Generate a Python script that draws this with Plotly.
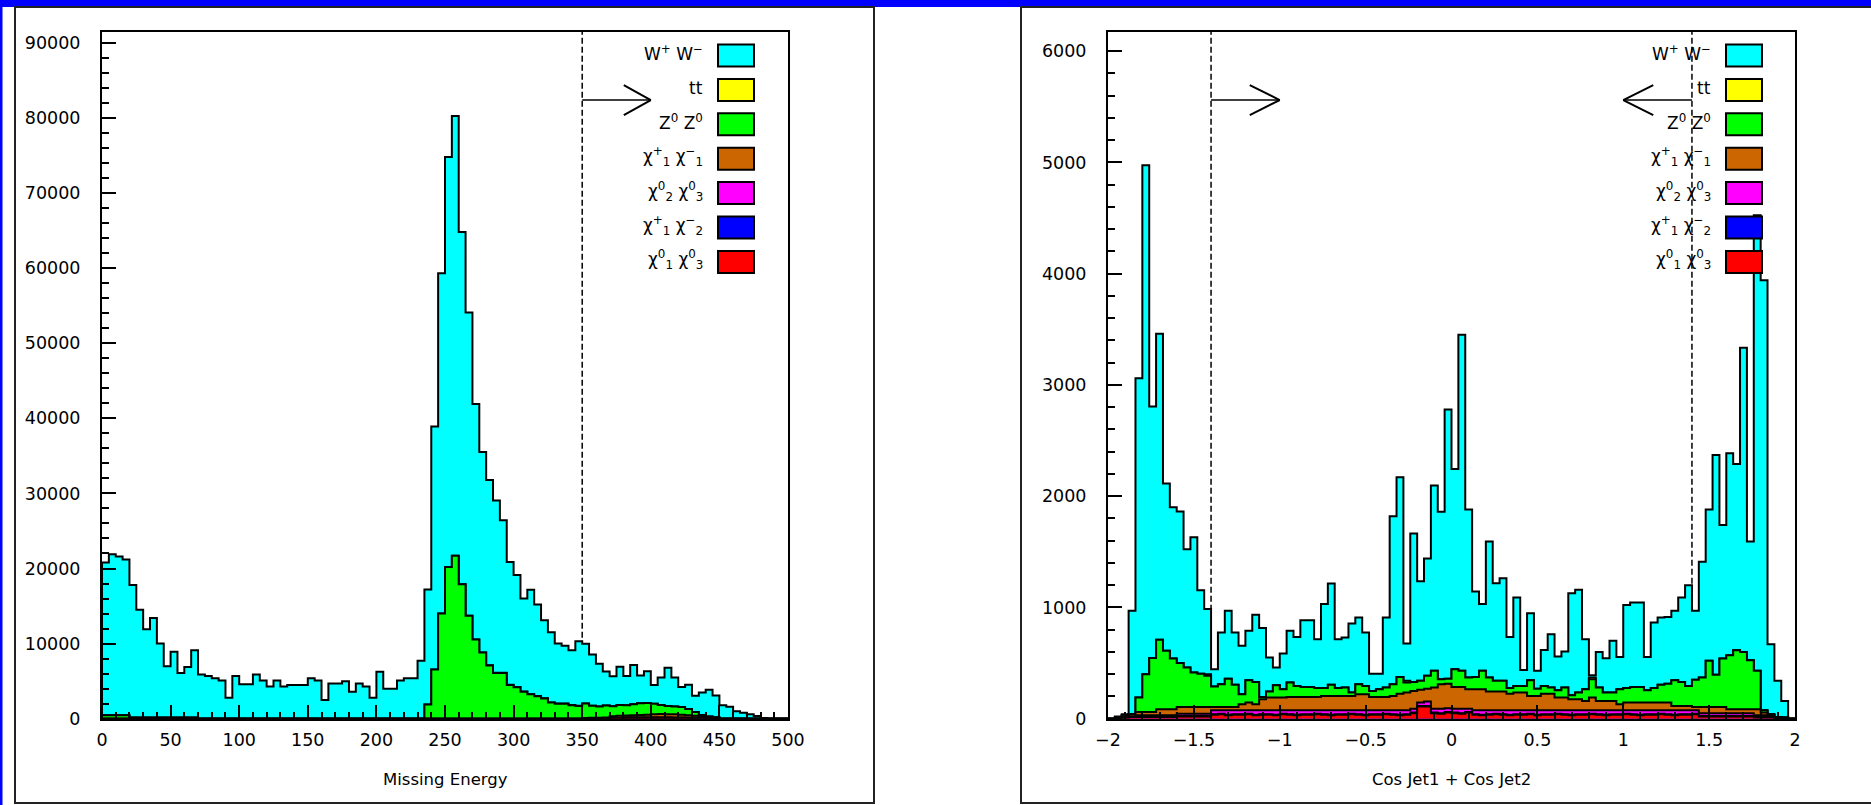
import numpy as np
import plotly.graph_objects as go

# ---------------- data ----------------
# Left panel: Missing Energy, 100 bins of width 5 from 0 to 500
energy_edges = np.linspace(0, 500, 101)

e_ww = [20350, 21450, 21150, 20750, 17650, 14350, 11750, 13250, 9850, 6850,
        8750, 5950, 6750, 8950, 5900, 5700, 5400, 5100, 2800, 5700,
        4600, 4600, 5900, 5100, 4300, 5100, 4300, 4500, 4500, 4500,
        5400, 5100, 2500, 4700, 4700, 5000, 3600, 4700, 4300, 2800,
        6250, 4000, 4000, 5100, 5400, 5400, 7700, 15300, 32350, 45300,
        54600, 58550, 46900, 40400, 31350, 26700, 24650, 22950, 20300, 16350,
        14900, 12400, 13900, 12200, 10400, 9350, 8000, 7700, 7300, 8600,
        7950, 6850, 5700, 4550, 4000, 5100, 3900, 5200, 3700, 4250,
        2500, 3650, 5100, 3850, 2650, 3250, 2150, 3000, 3550, 2900,
        1800, 1600, 1000, 800, 600, 350, 100, 0, 0, 0]
e_tt = [0, 0, 0, 0, 0, 0, 0, 0, 0, 0,
        0, 0, 0, 0, 0, 0, 0, 0, 0, 0,
        0, 0, 0, 0, 0, 0, 0, 0, 0, 0,
        0, 0, 0, 0, 0, 0, 0, 0, 0, 0,
        0, 0, 0, 0, 0, 0, 0, 0, 0, 0,
        0, 0, 0, 0, 0, 20, 20, 20, 20, 20,
        20, 20, 20, 20, 20, 20, 20, 20, 20, 20,
        0, 0, 0, 0, 0, 0, 0, 0, 0, 0,
        0, 0, 0, 0, 0, 0, 0, 0, 0, 0,
        0, 0, 0, 0, 0, 0, 0, 0, 0, 0]
e_zz = [450, 450, 450, 450, 150, 150, 150, 150, 150, 150,
        150, 150, 150, 150, 0, 0, 0, 0, 0, 0,
        0, 0, 0, 0, 0, 0, 0, 0, 0, 0,
        0, 0, 0, 0, 0, 0, 0, 0, 0, 0,
        0, 0, 0, 0, 0, 0, 0, 1900, 6550, 14000,
        20200, 21700, 17900, 13700, 10550, 8800, 7100, 6100, 6100, 4500,
        4200, 3600, 3250, 3000, 2700, 2150, 2000, 2000, 1800, 1700,
        1950, 1600, 1500, 1600, 1310, 1410, 1370, 1470, 1570, 1570,
        1420, 1220, 1120, 1020, 1020, 820, 520, 210, 110, 100,
        0, 0, 0, 0, 0, 0, 0, 0, 0, 0]
e_c1c1 = [0, 0, 0, 0, 0, 0, 0, 0, 0, 0,
          0, 0, 0, 0, 0, 0, 0, 0, 0, 0,
          0, 0, 0, 0, 0, 0, 0, 0, 0, 0,
          0, 0, 0, 0, 0, 0, 0, 0, 0, 0,
          0, 0, 0, 0, 0, 0, 0, 0, 0, 0,
          0, 0, 0, 0, 0, 0, 0, 0, 0, 0,
          0, 0, 0, 0, 0, 0, 0, 0, 0, 0,
          90, 110, 120, 150, 220, 260, 240, 280, 300, 320,
          380, 420, 400, 430, 380, 300, 250, 200, 120, 90,
          0, 0, 0, 0, 0, 0, 0, 0, 0, 0]
e_n2n3 = [0, 0, 0, 0, 0, 0, 0, 0, 0, 0,
          0, 0, 0, 0, 0, 0, 0, 0, 0, 0,
          0, 0, 0, 0, 0, 0, 0, 0, 0, 0,
          0, 0, 0, 0, 0, 0, 0, 0, 0, 0,
          0, 0, 0, 0, 0, 0, 0, 0, 0, 0,
          0, 0, 0, 0, 0, 0, 0, 0, 0, 0,
          0, 0, 0, 0, 0, 0, 0, 0, 0, 0,
          0, 0, 0, 0, 50, 60, 70, 60, 60, 70,
          60, 70, 60, 60, 50, 60, 50, 40, 30, 0,
          0, 0, 0, 0, 0, 0, 0, 0, 0, 0]
e_c1c2 = [0, 0, 0, 0, 0, 0, 0, 0, 0, 0,
          0, 0, 0, 0, 0, 0, 0, 0, 0, 0,
          0, 0, 0, 0, 0, 0, 0, 0, 0, 0,
          0, 0, 0, 0, 0, 0, 0, 0, 0, 0,
          0, 0, 0, 0, 0, 0, 0, 0, 0, 0,
          0, 0, 0, 0, 0, 0, 0, 0, 0, 0,
          0, 0, 0, 0, 0, 0, 0, 0, 0, 0,
          0, 0, 0, 0, 0, 0, 30, 40, 40, 40,
          50, 40, 40, 40, 30, 30, 20, 0, 0, 0,
          0, 0, 0, 0, 0, 0, 0, 0, 0, 0]
e_n1n3 = [0, 0, 0, 0, 0, 0, 0, 0, 0, 0,
          0, 0, 0, 0, 0, 0, 0, 0, 0, 0,
          0, 0, 0, 0, 0, 0, 0, 0, 0, 0,
          0, 0, 0, 0, 0, 0, 0, 0, 0, 0,
          0, 0, 0, 0, 0, 0, 0, 0, 0, 0,
          0, 0, 0, 0, 0, 0, 0, 0, 0, 0,
          0, 0, 0, 0, 0, 0, 0, 0, 0, 0,
          0, 0, 0, 0, 70, 80, 80, 90, 80, 80,
          90, 80, 80, 70, 80, 70, 60, 50, 40, 0,
          0, 0, 0, 0, 0, 0, 0, 0, 0, 0]

# Right panel: Cos Jet1 + Cos Jet2, 100 bins of width 0.04 from -2 to 2
cos_edges = np.linspace(-2, 2, 101)

c_ww = [0, 10, 10, 930, 2870, 4575, 2260, 2750, 1505, 1360,
        1363, 1064, 1215, 750, 585, 155, 465, 610, 470, 435,
        445, 605, 620, 305, 160, 320, 465, 440, 600, 600,
        440, 755, 910, 440, 450, 620, 600, 480, 155, 140,
        630, 1510, 1795, 335, 1335, 895, 1055, 1665, 1505, 2420,
        1800, 3020, 1510, 768, 600, 1223, 878, 923, 460, 795,
        143, 603, 160, 323, 480, 303, 323, 918, 923, 450,
        20, 320, 308, 465, 290, 748, 759, 759, 300, 589,
        604, 600, 625, 760, 905, 620, 1040, 1360, 1975, 1200,
        1815, 1675, 2733, 1068, 4095, 3865, 630, 325, 150, 0]
c_tt = [0, 0, 0, 0, 0, 0, 0, 0, 0, 0,
        0, 0, 0, 0, 15, 0, 0, 0, 0, 0,
        0, 0, 0, 0, 0, 0, 0, 0, 0, 0,
        0, 0, 0, 0, 0, 0, 0, 0, 0, 0,
        0, 0, 0, 15, 0, 0, 0, 0, 0, 0,
        0, 0, 0, 0, 0, 0, 0, 0, 0, 0,
        0, 0, 0, 0, 0, 0, 0, 0, 0, 0,
        15, 0, 0, 0, 0, 0, 0, 0, 0, 0,
        0, 0, 0, 0, 0, 0, 0, 0, 0, 0,
        0, 0, 0, 0, 0, 0, 0, 0, 0, 0]
c_zz = [0, 0, 0, 0, 130, 340, 485, 625, 525, 455,
        395, 355, 310, 300, 280, 185, 205, 255, 200, 90,
        200, 200, 20, 55, 110, 75, 130, 100, 90, 90,
        80, 70, 100, 70, 75, 30, 90, 75, 55, 70,
        85, 105, 150, 90, 80, 80, 115, 150, 45, 45,
        160, 145, 105, 110, 165, 125, 95, 95, 50, 60,
        60, 140, 65, 70, 55, 65, 90, 35, 60, 105,
        165, 120, 75, 75, 135, 130, 140, 140, 110, 130,
        160, 170, 230, 215, 180, 245, 265, 415, 290, 435,
        485, 530, 515, 440, 345, 20, 5, 0, 0, 0]
c_c1c1 = [0, 10, 20, 20, 30, 30, 30, 55, 55, 55,
          60, 60, 60, 60, 60, 30, 30, 30, 30, 55,
          70, 55, 100, 115, 115, 115, 120, 120, 120, 120,
          120, 130, 130, 130, 130, 130, 145, 145, 120, 120,
          120, 130, 150, 160, 160, 115, 115, 190, 220, 220,
          195, 195, 175, 190, 190, 170, 170, 170, 150, 160,
          160, 130, 130, 150, 150, 115, 115, 100, 100, 85,
          115, 85, 85, 85, 55, 70, 70, 70, 70, 70,
          70, 70, 40, 40, 40, 30, 55, 55, 55, 55,
          35, 35, 35, 35, 55, 25, 5, 15, 10, 0]
c_n2n3 = [0, 0, 0, 0, 10, 10, 10, 10, 10, 10,
          20, 20, 20, 20, 20, 35, 30, 40, 35, 35,
          30, 40, 35, 35, 40, 30, 35, 40, 35, 35,
          30, 35, 40, 35, 35, 30, 35, 40, 35, 35,
          30, 35, 40, 35, 35, 30, 40, 35, 40, 35,
          35, 40, 30, 35, 40, 35, 30, 35, 40, 35,
          35, 30, 40, 35, 35, 30, 35, 40, 35, 35,
          30, 35, 40, 35, 35, 30, 35, 40, 35, 35,
          30, 35, 40, 35, 35, 30, 25, 25, 25, 25,
          25, 25, 25, 25, 15, 15, 15, 0, 0, 0]
c_c1c2 = [0, 0, 0, 5, 5, 5, 5, 5, 5, 5,
          5, 5, 5, 5, 5, 5, 5, 5, 5, 5,
          5, 5, 5, 5, 5, 5, 5, 5, 5, 5,
          5, 5, 5, 5, 5, 5, 5, 5, 5, 5,
          5, 5, 5, 5, 5, 5, 5, 5, 5, 5,
          5, 5, 5, 5, 5, 5, 5, 5, 5, 5,
          5, 5, 5, 5, 5, 5, 5, 5, 5, 5,
          5, 5, 5, 5, 5, 5, 5, 5, 5, 5,
          5, 5, 5, 5, 5, 5, 5, 5, 5, 5,
          5, 5, 5, 5, 5, 5, 5, 0, 0, 0]
c_n1n3 = [0, 0, 10, 15, 15, 15, 15, 15, 15, 15,
          20, 20, 20, 20, 20, 35, 40, 30, 35, 35,
          40, 30, 35, 35, 30, 40, 35, 30, 35, 35,
          40, 35, 30, 35, 35, 40, 35, 30, 35, 35,
          40, 35, 30, 35, 50, 110, 110, 50, 45, 55,
          50, 45, 55, 35, 30, 35, 40, 35, 30, 35,
          35, 40, 30, 35, 35, 40, 35, 30, 35, 35,
          40, 35, 30, 35, 35, 40, 35, 30, 35, 35,
          40, 35, 30, 35, 35, 40, 20, 20, 20, 20,
          20, 20, 20, 20, 10, 10, 10, 0, 0, 0]

labels = ["W<sup>+</sup> W<sup>\u2212</sup>", "tt", "Z<sup>0</sup> Z<sup>0</sup>",
          "\u03c7<sup>+</sup><sub>1</sub> \u03c7<sup>\u2212</sup><sub>1</sub>",
          "\u03c7<sup>0</sup><sub>2</sub> \u03c7<sup>0</sup><sub>3</sub>",
          "\u03c7<sup>+</sup><sub>1</sub> \u03c7<sup>\u2212</sup><sub>2</sub>",
          "\u03c7<sup>0</sup><sub>1</sub> \u03c7<sup>0</sup><sub>3</sub>"]
colors = ["#00FFFF", "#FFFF00", "#00FF00", "#CC6600", "#FF00FF", "#0000FF", "#FF0000"]

energy_cut = 350
cos_cut = 1.4

# ---------------- figure ----------------
W, H = 1871, 805
FONT = "DejaVu Sans"


def px_x(p):
    return p / W


def px_y(p):
    return (H - p) / H


def step_xy(edges, levels):
    x = [edges[0]] + list(edges[:-1]) + [edges[-1], edges[-1]]
    y = [0] + list(levels) + [levels[-1], 0]
    return x, y


fig = go.Figure()


def add_stack(series, edges, xa, ya):
    # series listed top (WW) to bottom; stack from the bottom up
    bottom_up = series[::-1]
    levels = np.cumsum(np.array(bottom_up, dtype=float), axis=0)[::-1]
    for lev, col in zip(levels, colors):
        x, y = step_xy(edges, lev)
        fig.add_trace(go.Scatter(x=x, y=y, xaxis=xa, yaxis=ya, mode="lines",
                                 line=dict(shape="hv", color="black", width=2),
                                 fill="tozeroy", fillcolor=col,
                                 hoverinfo="skip", showlegend=False))


add_stack([e_ww, e_tt, e_zz, e_c1c1, e_n2n3, e_c1c2, e_n1n3], energy_edges, "x", "y")
add_stack([c_ww, c_tt, c_zz, c_c1c1, c_n2n3, c_c1c2, c_n1n3], cos_edges, "x2", "y2")

y_dom = [px_y(718.7), px_y(32)]
y1_top = 91440
y2_top = 6172

common = dict(showgrid=False, zeroline=False, showline=True, linecolor="black", linewidth=2,
              mirror=True, ticks="inside", tickcolor="black", tickwidth=2, automargin=False,
              tickfont=dict(family=FONT, size=17.5, color="black"), tickmode="linear")
minor_style = dict(ticklen=7, tickwidth=2, ticks="inside", tickcolor="black")

fig.update_layout(
    template="none",
    width=W, height=H, margin=dict(l=0, r=0, t=0, b=0, pad=0, autoexpand=False),
    paper_bgcolor="white", plot_bgcolor="white",
    xaxis=dict(domain=[px_x(102), px_x(788)], range=[0, 500], anchor="y", tick0=0, dtick=50,
               ticklen=14, ticklabelstandoff=4, minor=dict(dtick=10, **minor_style), **common),
    yaxis=dict(domain=y_dom, range=[0, y1_top], anchor="x", tick0=0, dtick=10000,
               tickformat="d", ticklen=14, ticklabelstandoff=16,
               minor=dict(dtick=2000, **minor_style), **common),
    xaxis2=dict(domain=[px_x(1108), px_x(1795)], range=[-2, 2], anchor="y2", tick0=0, dtick=0.5,
                ticklen=14, ticklabelstandoff=4, minor=dict(dtick=0.1, **minor_style), **common),
    yaxis2=dict(domain=y_dom, range=[0, y2_top], anchor="x2", tick0=0, dtick=1000,
                tickformat="d", ticklen=14, ticklabelstandoff=16,
                minor=dict(dtick=200, **minor_style), **common),
)

shapes = []
annotations = []

# page decorations: blue strips and panel frames
shapes.append(dict(type="rect", xref="paper", yref="paper", x0=0, x1=1, y0=px_y(7), y1=1,
                   fillcolor="#0000FF", line=dict(width=0), layer="above"))
shapes.append(dict(type="rect", xref="paper", yref="paper", x0=0, x1=px_x(2.5), y0=0, y1=1,
                   fillcolor="#0000FF", line=dict(width=0), layer="above"))
shapes.append(dict(type="rect", xref="paper", yref="paper", x0=px_x(15), x1=px_x(874),
                   y0=px_y(803), y1=px_y(7), line=dict(color="#222222", width=2)))
shapes.append(dict(type="rect", xref="paper", yref="paper", x0=px_x(1021), x1=px_x(1880),
                   y0=px_y(803), y1=px_y(7), line=dict(color="#222222", width=2)))

dash = "6px,3px"
# cut lines
shapes.append(dict(type="line", xref="x", yref="y", x0=energy_cut, x1=energy_cut, y0=0, y1=y1_top,
                   line=dict(color="black", width=1.5, dash=dash), layer="below"))
for cx in (-cos_cut, cos_cut):
    shapes.append(dict(type="line", xref="x2", yref="y2", x0=cx, x1=cx, y0=0, y1=y2_top,
                       line=dict(color="black", width=1.5, dash=dash), layer="below"))


def arrow(xref, yref, x_start, x_tip, yv, arm_dx):
    shapes.append(dict(type="line", xref=xref, yref=yref, x0=x_start, x1=x_tip, y0=yv, y1=yv,
                       line=dict(color="black", width=1.5)))
    for sgn in (1, -1):
        shapes.append(dict(type="line", xref=xref, yref=yref,
                           xsizemode="pixel", xanchor=x_tip, x0=0, x1=arm_dx,
                           ysizemode="pixel", yanchor=yv, y0=0, y1=15 * sgn,
                           line=dict(color="black", width=2)))


arrow("x", "y", energy_cut, 400, 82380, -27)
arrow("x2", "y2", -cos_cut, -1.0, 5560, -30)
arrow("x2", "y2", cos_cut, 1.0, 5560, 30)

# legends
rows = [55.5 + 34.4 * i for i in range(7)]
for text_right, box_l in ((705, 718), (1713, 1726)):
    for lab, col, yc in zip(labels, colors, rows):
        shapes.append(dict(type="rect", xref="paper", yref="paper",
                           x0=px_x(box_l), x1=px_x(box_l + 36),
                           y0=px_y(yc + 11), y1=px_y(yc - 11),
                           fillcolor=col, line=dict(color="black", width=2)))
        annotations.append(dict(xref="paper", yref="paper", x=px_x(text_right), y=px_y(yc - 2),
                                xanchor="right", yanchor="middle", showarrow=False, text=lab,
                                font=dict(family=FONT, size=17, color="black")))

# axis titles
annotations.append(dict(xref="paper", yref="paper", x=px_x(445), y=px_y(779),
                        xanchor="center", yanchor="middle", showarrow=False, text="Missing Energy",
                        font=dict(family=FONT, size=16.5, color="black")))
annotations.append(dict(xref="paper", yref="paper", x=px_x(1451.5), y=px_y(779),
                        xanchor="center", yanchor="middle", showarrow=False, text="Cos Jet1 + Cos Jet2",
                        font=dict(family=FONT, size=16.5, color="black")))

fig.update_layout(shapes=shapes, annotations=annotations)
fig.write_html("out.html", post_script="document.body.style.margin='0';")
